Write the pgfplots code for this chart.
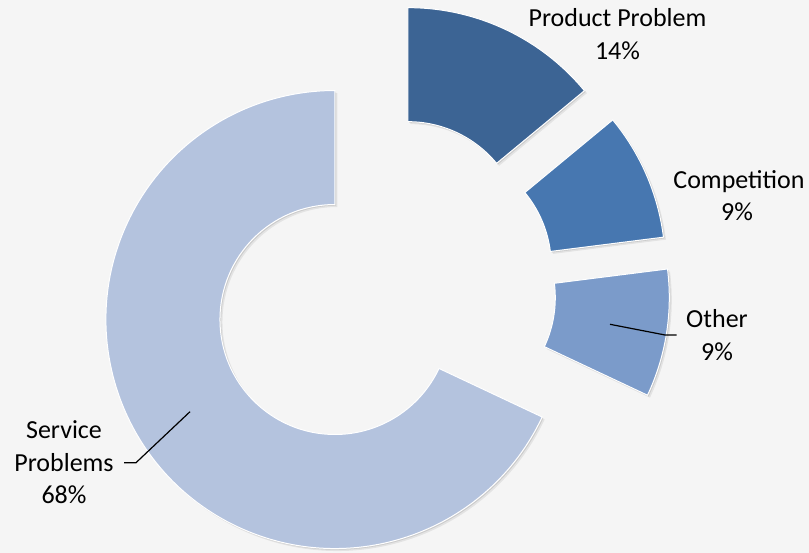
\documentclass[border=0pt]{standalone}
\usepackage{pgfplots}
\pgfplotsset{compat=1.18}
\usepackage{fontspec}
\setmainfont{Carlito}

\definecolor{bgcol}{HTML}{F5F5F5}
\definecolor{prodcol}{HTML}{3C6494}
\definecolor{compcol}{HTML}{4777B0}
\definecolor{othcol}{HTML}{7B9BCA}
\definecolor{servcol}{HTML}{B4C3DE}

\tikzset{lbl/.style={anchor=base,font=\fontsize{26bp}{32bp}\selectfont,text=black,inner sep=0pt}}

% donut ring between #1 % and #2 % (clockwise from 12 o'clock)
\newcommand\ring[2]{%
  ({90-3.6*#1}:115bp) -- ({90-3.6*#1}:229bp)
  arc[start angle={90-3.6*#1},end angle={90-3.6*#2},radius=229bp]
  -- ({90-3.6*#2}:115bp)
  arc[start angle={90-3.6*#2},end angle={90-3.6*#1},radius=115bp] -- cycle}

% exploded slice: from #1 % to #2 %, colour #3
\newcommand\slice[3]{%
  \fill[black,opacity=0.07,shift={(axis cs:383.5,264.3)},
    shift={({90-1.8*(#1+#2)}:57.5bp)},xshift=2.5bp,yshift=-2.5bp] \ring{#1}{#2};
  \fill[black,opacity=0.10,shift={(axis cs:383.5,264.3)},
    shift={({90-1.8*(#1+#2)}:57.5bp)},xshift=1.2bp,yshift=-1.2bp] \ring{#1}{#2};
  \fill[#3,draw=white,line width=1bp,shift={(axis cs:383.5,264.3)},
    shift={({90-1.8*(#1+#2)}:57.5bp)}] \ring{#1}{#2};
}

\begin{document}
\begin{tikzpicture}
\begin{axis}[
  x=1bp, y=1bp,
  xmin=0, xmax=809, ymin=0, ymax=553,
  hide axis, scale only axis, clip=false,
]
\fill[bgcol] (axis cs:0,0) rectangle (axis cs:809,553);
\coordinate (bl) at (axis cs:0,0);
\coordinate (tr) at (axis cs:809,553);

% shares: Product Problem 14, Competition 9, Other 9, Service Problems 68
\slice{0}{14}{prodcol}
\slice{14}{23}{compcol}
\slice{23}{32}{othcol}
\slice{32}{100}{servcol}

\draw[black,line width=1.2bp] (axis cs:610,228.7) -- (axis cs:665,218) -- (axis cs:676.7,218);
\draw[black,line width=1.2bp] (axis cs:190,141.3) -- (axis cs:136,90.3) -- (axis cs:124,90.3);

\node[lbl] at (axis cs:617.5,526.3) {Product Problem};
\node[lbl] at (axis cs:617.5,493.7) {14\%};
\node[lbl] at (axis cs:739,364) {Competition};
\node[lbl] at (axis cs:737,332) {9\%};
\node[lbl] at (axis cs:717,225.3) {Other};
\node[lbl] at (axis cs:717,192) {9\%};
\node[lbl] at (axis cs:64,114.7) {Service};
\node[lbl] at (axis cs:64,81.3) {Problems};
\node[lbl] at (axis cs:64,49) {68\%};
\end{axis}
\pgfresetboundingbox
\path[use as bounding box] (bl) rectangle (tr);
\end{tikzpicture}
\end{document}
